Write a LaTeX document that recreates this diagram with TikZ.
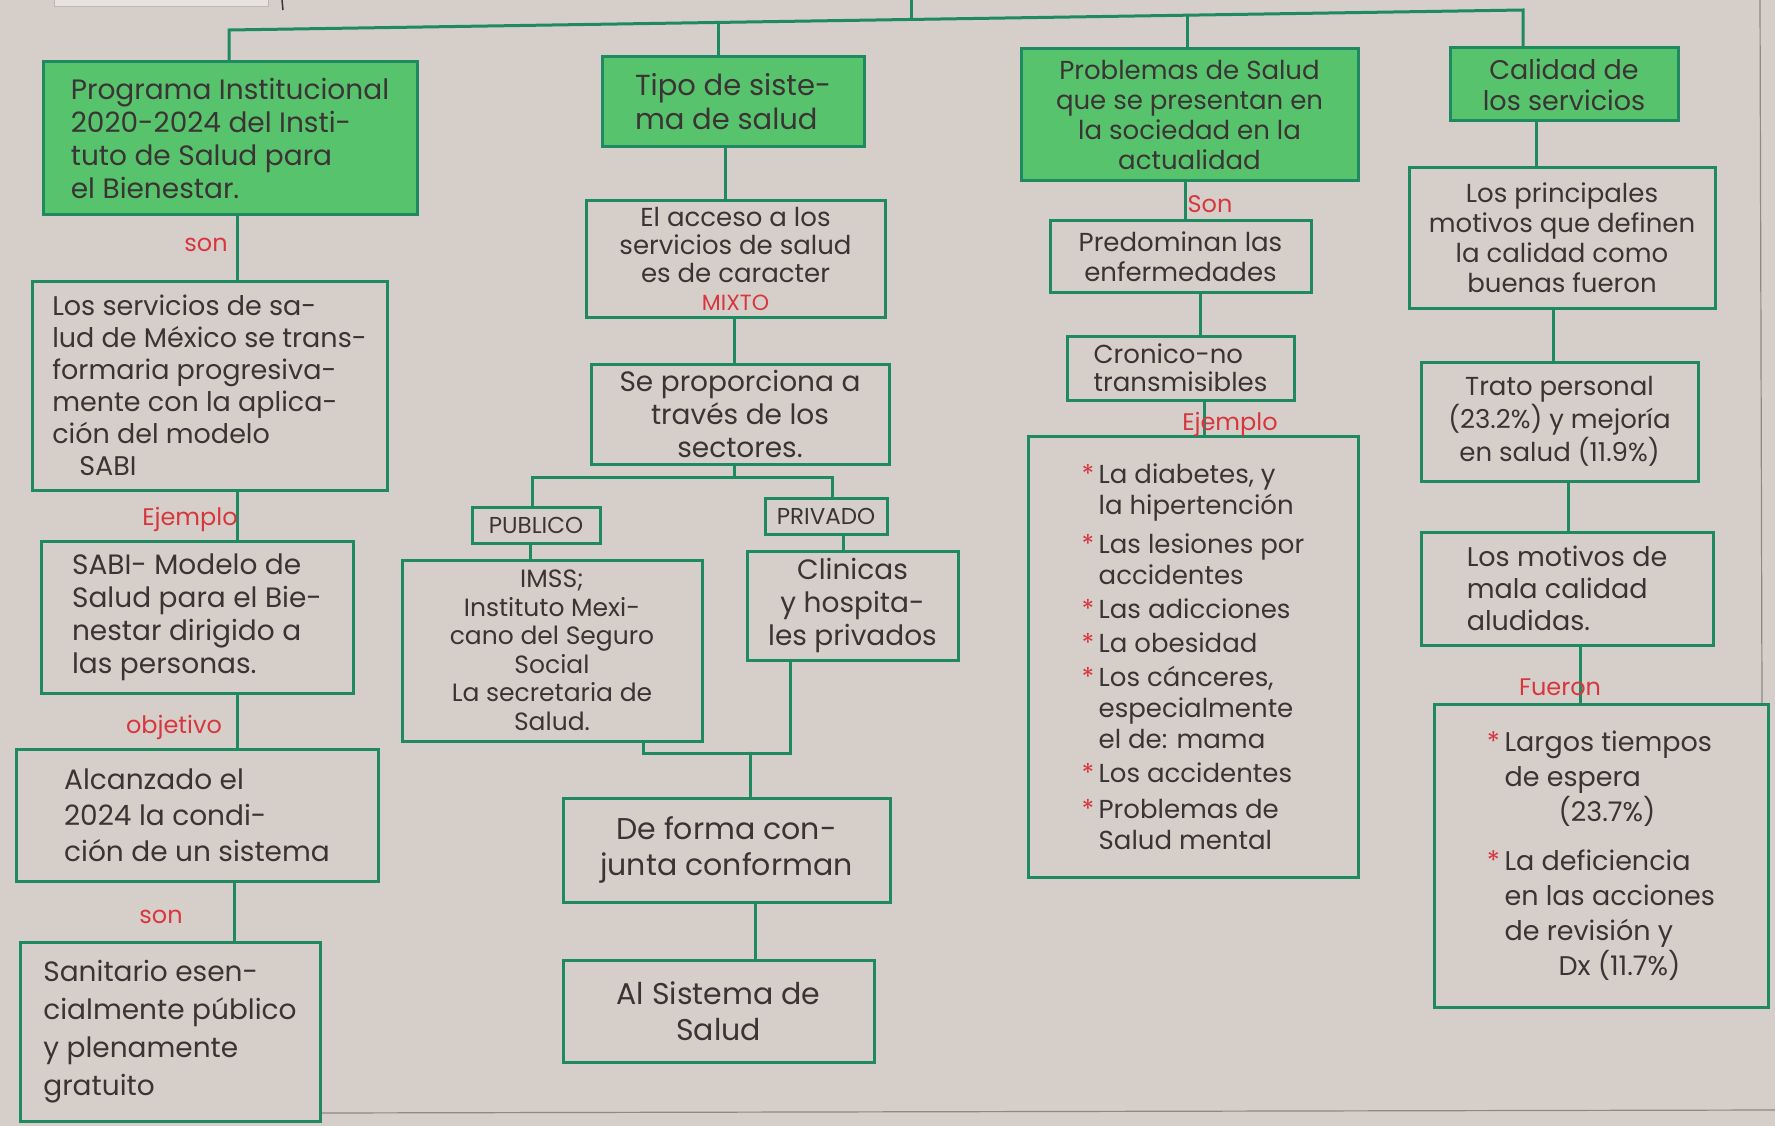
\documentclass[tikz,border=0pt]{standalone}
\usepackage{fontspec}
\setmainfont{Poppins}
\usetikzlibrary{calc}
\definecolor{paper}{HTML}{D6CFC9}
\definecolor{gline}{HTML}{1F8A62}
\definecolor{gfill}{HTML}{58C36D}
\definecolor{ink}{HTML}{3A3434}
\definecolor{lred}{HTML}{D8363F}
\definecolor{edgegray}{HTML}{8F8883}
\newcommand{\bodyfnt}{\fontsize{28}{33}\selectfont}
\newcommand{\labfnt}{\fontsize{24}{26}\selectfont}
\newcommand{\rstar}{{\color{lred}*}\,}
\newcommand{\indt}{\hphantom{*\,}}
\tikzset{
  box/.style={draw=gline, line width=3pt, inner sep=4pt, align=left, text=ink, font=\bodyfnt},
  hbox/.style={box, fill=gfill},
  lab/.style={text=lred, font=\labfnt, inner sep=1pt},
  conn/.style={draw=gline, line width=3pt, line cap=round},
  edgeline/.style={draw=edgegray, line width=1.2pt},
}
\begin{document}
\begin{tikzpicture}[x=1pt,y=-1pt]
\useasboundingbox (0,0) rectangle (1775,1126);
\fill[paper] (0,0) rectangle (1775,1126);
% photo/paper edges
\fill[paper!60!white, draw=edgegray!60, line width=0.8pt] (54,-3) rectangle (268,6);
\draw[edgeline, ink, line width=1.5pt] (282,0) -- (283,10);
\draw[edgeline] (1760,0) -- (1762,704);
\draw[edgeline] (320,1113) -- (1775,1110);

% ---------------- nodes ----------------
% column 1
\node[hbox, minimum width=374pt, minimum height=153pt] (A) at (230,138.5)
  {Programa Institucional\\ 2020-2024 del Insti-\\ tuto de Salud para\\ el Bienestar.};
\node[box, minimum width=355pt, minimum height=209pt, font={\fontsize{27}{32}\selectfont}] (B) at (209.5,385.5)
  {Los servicios de sa-\\ lud de México se trans-\\ formaria progresiva-\\ mente con la aplica-\\ ción del modelo\\ \quad SABI};
\node[box, minimum width=312pt, minimum height=152pt] (C) at (197,617)
  {SABI- Modelo de\\ Salud para el Bie-\\ nestar dirigido a\\ las personas.};
\node[box, minimum width=362pt, minimum height=132pt, font={\fontsize{28}{36}\selectfont}] (D) at (197,815)
  {Alcanzado el\\ 2024 la condi-\\ ción de un sistema};
\node[box, minimum width=300pt, minimum height=179pt, font={\fontsize{28}{38}\selectfont}] (E) at (170,1031.5)
  {Sanitario esen-\\ cialmente público\\ y plenamente\\ gratuito};

% column 2
\node[hbox, minimum width=262pt, minimum height=90pt, font={\fontsize{29}{34}\selectfont}] (T) at (733,102)
  {Tipo de siste-\\ ma de salud};
\node[box, minimum width=299pt, minimum height=116pt, align=center, font={\fontsize{26}{28}\selectfont}] (Acc) at (735.5,259)
  {El acceso a los\\ servicios de salud\\ es de caracter\\ {\color{lred}\fontsize{22}{22}\selectfont MIXTO}};
\node[box, minimum width=298pt, minimum height=100pt, align=center] (Se) at (740,414)
  {Se proporciona a\\ través de los\\ sectores.};
\node[box, minimum width=128pt, minimum height=36pt, inner sep=2pt, font={\fontsize{23}{24}\selectfont}] (Pub) at (536,525) {PUBLICO};
\node[box, minimum width=122pt, minimum height=36pt, inner sep=2pt, font={\fontsize{23}{24}\selectfont}] (Priv) at (826,516) {PRIVADO};
\node[box, minimum width=300pt, minimum height=181pt, align=center, font={\fontsize{25}{28.5}\selectfont}] (Imss) at (552,650.5)
  {IMSS;\\ Instituto Mexi-\\ cano del Seguro\\ Social\\ La secretaria de\\ Salud.};
\node[box, minimum width=211pt, minimum height=109pt, align=center] (Cli) at (852.5,605.5)
  {Clinicas\\ y hospita-\\ les privados};
\node[box, minimum width=327pt, minimum height=104pt, align=center, font={\fontsize{30}{36}\selectfont}] (Forma) at (726.5,850)
  {De forma con-\\ junta conforman};
\node[box, minimum width=311pt, minimum height=102pt, align=center, font={\fontsize{30}{36}\selectfont}] (Sis) at (718.5,1011)
  {Al Sistema de\\ Salud};

% column 3
\node[hbox, minimum width=337pt, minimum height=132pt, align=center, font={\fontsize{26}{30}\selectfont}] (P) at (1189.5,115)
  {Problemas de Salud\\ que se presentan en\\ la sociedad en la\\ actualidad};
\node[box, minimum width=261pt, minimum height=71pt, align=center, font={\fontsize{26}{30}\selectfont}] (Pre) at (1180.5,256.5)
  {Predominan las\\ enfermedades};
\node[box, minimum width=227pt, minimum height=64pt, font={\fontsize{26}{28}\selectfont}] (Cro) at (1180.5,368)
  {Cronico-no\\ transmisibles};
\node[box, minimum width=330pt, minimum height=441pt, font={\fontsize{26}{31}\selectfont}] (L) at (1193,656.5)
  {\rstar La diabetes, y\\ \indt la hipertención\\[8pt]
   \rstar Las lesiones por\\ \indt accidentes\\[3pt]
   \rstar Las adicciones\\[3pt]
   \rstar La obesidad\\[3pt]
   \rstar Los cánceres,\\ \indt especialmente\\ \indt el de: mama\\[3pt]
   \rstar Los accidentes\\[5pt]
   \rstar Problemas de\\ \indt Salud mental};

% column 4
\node[hbox, minimum width=228pt, minimum height=73pt, align=center, font={\fontsize{27}{31}\selectfont}] (Cal) at (1564,84.5)
  {Calidad de\\ los servicios};
\node[box, minimum width=306pt, minimum height=140pt, align=center, font={\fontsize{26}{30}\selectfont}] (Pri) at (1562,238)
  {Los principales\\ motivos que definen\\ la calidad como\\ buenas fueron};
\node[box, minimum width=277pt, minimum height=119pt, align=center, font={\fontsize{26}{33}\selectfont}] (Tra) at (1559.5,421.5)
  {Trato personal\\ (23.2\%) y mejoría\\ en salud (11.9\%)};
\node[box, minimum width=292pt, minimum height=113pt, font={\fontsize{27}{32}\selectfont}] (Mot) at (1567,588.5)
  {Los motivos de\\ mala calidad\\ aludidas.};
\node[box, minimum width=334pt, minimum height=303pt, font={\fontsize{27}{35}\selectfont}] (F) at (1601,855.5)
  {\rstar Largos tiempos\\ \indt de espera\\ \indt\qquad (23.7\%)\\[14pt]
   \rstar La deficiencia\\ \indt en las acciones\\ \indt de revisión y\\ \indt\qquad Dx (11.7\%)};

% ---------------- connectors ----------------
\coordinate (top) at (911,0);
\coordinate (b1) at (229,30);
\coordinate (b2) at (718,22.4);
\coordinate (bt) at (911,19.5);
\coordinate (b3) at (1187,15.2);
\coordinate (b4) at (1523,10);
\draw[conn] (top) -- (bt);
\draw[conn] (A.north -| b1) -- (b1) -- (b4) -- (Cal.north -| b4);
\draw[conn] (b2) -- (T.north -| b2);
\draw[conn] (b3) -- (P.north -| b3);

% column 1
\coordinate (x1) at (237,0);
\coordinate (x1b) at (234,0);
\draw[conn] (A.south -| x1) -- (B.north -| x1);
\draw[conn] (B.south -| x1) -- (C.north -| x1);
\draw[conn] (C.south -| x1) -- (D.north -| x1);
\draw[conn] (D.south -| x1b) -- (E.north -| x1b);

% column 2
\coordinate (x2a) at (725,0);
\coordinate (x2b) at (734,0);
\coordinate (sp) at (734,477);
\coordinate (spL) at (532,477);
\coordinate (spR) at (832,477);
\coordinate (xpub) at (530,0);
\coordinate (xpriv) at (843,0);
\coordinate (jL) at (643,753);
\coordinate (jR) at (790,753);
\coordinate (jC) at (750,753);
\coordinate (x2c) at (755,0);
\draw[conn] (T.south -| x2a) -- (Acc.north -| x2a);
\draw[conn] (Acc.south -| x2b) -- (Se.north -| x2b);
\draw[conn] (Se.south -| sp) -- (sp);
\draw[conn] (Pub.north -| spL) -- (spL) -- (spR) -- (Priv.north -| spR);
\draw[conn] (Pub.south -| xpub) -- (Imss.north -| xpub);
\draw[conn] (Priv.south -| xpriv) -- (Cli.north -| xpriv);
\draw[conn] (Imss.south -| jL) -- (jL) -- (jR) -- (Cli.south -| jR);
\draw[conn] (jC) -- (Forma.north -| jC);
\draw[conn] (Forma.south -| x2c) -- (Sis.north -| x2c);

% column 3
\coordinate (x3a) at (1185,0);
\coordinate (x3b) at (1200,0);
\coordinate (x3c) at (1204,0);
\draw[conn] (P.south -| x3a) -- (Pre.north -| x3a);
\draw[conn] (Pre.south -| x3b) -- (Cro.north -| x3b);
\draw[conn] (Cro.south -| x3c) -- (L.north -| x3c);

% column 4
\coordinate (x4a) at (1536,0);
\coordinate (x4b) at (1553,0);
\coordinate (x4c) at (1568,0);
\coordinate (x4d) at (1580,0);
\draw[conn] (Cal.south -| x4a) -- (Pri.north -| x4a);
\draw[conn] (Pri.south -| x4b) -- (Tra.north -| x4b);
\draw[conn] (Tra.south -| x4c) -- (Mot.north -| x4c);
\draw[conn] (Mot.south -| x4d) -- (F.north -| x4d);

% ---------------- link labels ----------------
\node[lab] (l1) at (206,245) {son};
\node[lab] (l2) at (190,519) {Ejemplo};
\node[lab] (l3) at (174,727) {objetivo};
\node[lab] (l4) at (161,917) {son};
\node[lab] (l5) at (1210,204) {Son};
\node[lab] (l6) at (1230,424) {Ejemplo};
\node[lab] (l7) at (1560,687) {Fueron};
\end{tikzpicture}
\end{document}
